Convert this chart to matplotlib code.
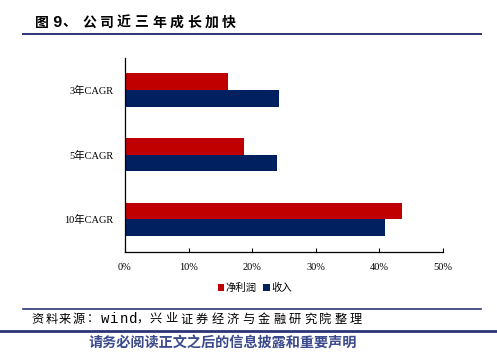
import numpy as np
import matplotlib.pyplot as plt
from matplotlib.lines import Line2D

categories = ['10年CAGR', '5年CAGR', '3年CAGR']
net_profit = [43.6, 18.7, 16.2]
revenue = [40.9, 23.9, 24.3]
xticks = [0, 10, 20, 30, 40, 50]

plt.rcParams['font.family'] = ['Liberation Serif', 'Noto Sans CJK SC']

W, H = 497, 356
fig = plt.figure(figsize=(W / 100, H / 100), dpi=100)
ax = fig.add_axes([0.2515, 0.293, 0.6392, 0.545])

y = np.arange(len(categories))
h = 0.26
ax.barh(y + h / 2, net_profit, height=h, color='#C00000', label='净利润')
ax.barh(y - h / 2, revenue, height=h, color='#002060', label='收入')

ax.set_xlim(0, 50)
ax.set_ylim(-0.5, 2.5)
ax.set_yticks(y)
ax.set_yticklabels(categories, fontsize=7.5)
ax.set_xticks(xticks)
ax.set_xticklabels([f'{t}%' for t in xticks], fontsize=7.5)
ax.tick_params(axis='y', length=0, pad=8)
ax.tick_params(axis='x', direction='in', length=3, pad=8, width=0.8)
for s in ['top', 'right']:
    ax.spines[s].set_visible(False)
for s in ['left', 'bottom']:
    ax.spines[s].set_linewidth(0.9)

fig.legend(loc='center', bbox_to_anchor=(255 / W, 1 - 288 / H), ncol=2,
           frameon=False, handlelength=0.6, handleheight=0.6,
           handletextpad=0.2, columnspacing=0.6,
           prop={'family': ['Noto Sans CJK SC'], 'size': 7.5})

navy = '#2B3575'
fig.add_artist(Line2D([23 / W, 481 / W], [1 - 34 / H] * 2, color=navy, lw=1.4))
fig.add_artist(Line2D([23 / W, 481 / W], [1 - 309 / H] * 2, color=navy, lw=1.2))
fig.add_artist(Line2D([0, 1], [1 - 330.5 / H] * 2, color=navy, lw=2))

PUNCT = '：，、'


def spaced_text(yc, segments, size, weight='normal'):
    # each segment: (x px, text, pitch px); glyphs centred on x, punctuation left-aligned
    for x, s, pitch in segments:
        mono = s.isascii()
        for ch in s:
            fig.text(x / W, 1 - yc / H, ch, va='center',
                     ha='left' if ch in PUNCT else 'center',
                     family='Liberation Mono' if mono else 'Noto Sans CJK SC',
                     fontsize=size * 1.15 if mono else size, fontweight=weight)
            x += pitch


spaced_text(22.5, [(41.5, '图', 0), (56.5, '9', 0), (62, '、', 0),
                   (89, '公司近三年成长加快', 17.5)], 10, 'bold')
spaced_text(319, [(38, '资料来源', 13.5), (87, '：', 0), (105, 'wind', 9.3),
                  (136, '，', 0), (156, '兴业证券经济与金融研究院整理', 15.4)], 8.8)
fig.text(223 / W, 1 - 344 / H, '请务必阅读正文之后的信息披露和重要声明', fontsize=10.2,
         fontweight='bold', family=['Noto Sans CJK SC'], color='#3B4A8C',
         va='center', ha='center')

fig.savefig('out.png', dpi=100)
